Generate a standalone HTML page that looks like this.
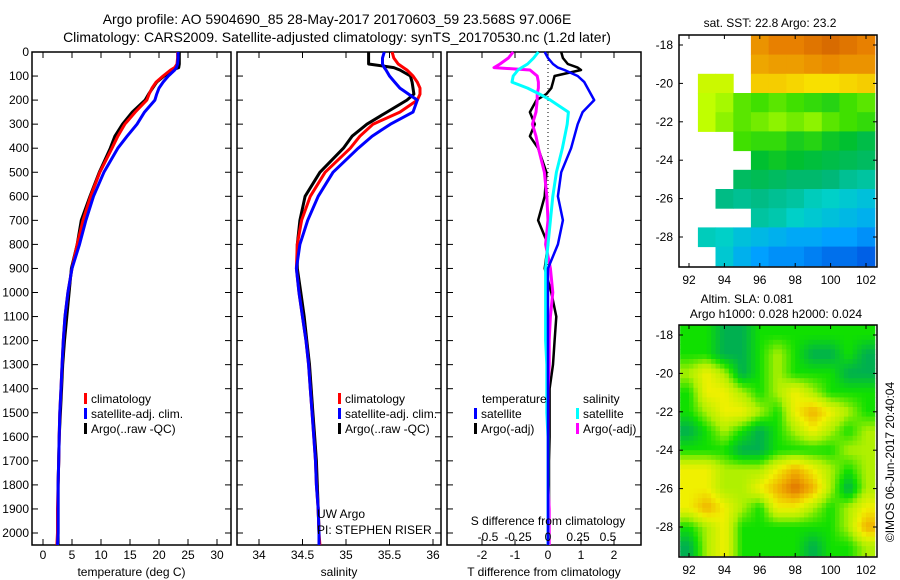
<!DOCTYPE html>
<html><head><meta charset="utf-8"><style>
body{margin:0;background:#fff;}
svg{display:block;font-family:"Liberation Sans",sans-serif;}
text{fill:#000;}
</style></head><body>
<svg id="fig" width="900" height="580" viewBox="0 0 900 580" xmlns="http://www.w3.org/2000/svg">
<text x="337" y="24" font-size="14" text-anchor="middle">Argo profile: AO 5904690_85 28-May-2017 20170603_59 23.568S 97.006E</text>
<text x="337" y="42" font-size="14" text-anchor="middle">Climatology: CARS2009. Satellite-adjusted climatology: synTS_20170530.nc (1.2d later)</text>
</svg>
<script>
// ---------- data ----------
const depths = [0,25,50,65,75,100,125,150,175,200,250,300,350,400,500,600,700,800,900,1000,1100,1200,1300,1400,1500,1600,1700,1800,1900,2000,2050];
const tempClim = [23.2,23.2,23.1,22.7,22.0,20.7,19.5,18.8,18.3,17.9,15.9,14.1,12.9,11.9,9.8,8.2,6.9,5.9,5.0,4.3,3.8,3.5,3.3,3.1,2.9,2.8,2.7,2.6,2.5,2.5,2.4];
const tempSat  = [23.3,23.3,23.2,23.0,22.7,21.6,20.7,20.0,19.6,19.3,17.5,16.2,14.5,12.9,10.5,8.7,7.4,6.3,5.0,4.3,3.8,3.5,3.3,3.1,2.9,2.8,2.7,2.6,2.6,2.6,2.5];
const tempArgo = [23.5,23.5,23.5,23.4,22.3,20.9,19.6,18.9,18.2,17.6,15.4,13.7,12.4,11.6,9.7,8.1,6.6,5.9,4.9,4.5,4.1,3.7,3.4,3.2,3.0,2.8,2.7,2.6,2.6,2.6,2.6];
const salClim = [35.53,35.55,35.60,35.66,35.70,35.77,35.82,35.85,35.85,35.82,35.62,35.31,35.16,35.05,34.76,34.59,34.49,34.44,34.43,34.46,34.50,34.54,34.57,34.59,34.61,34.63,34.65,34.66,34.68,34.69,34.70];
const salSat  = [35.44,35.42,35.42,35.44,35.46,35.50,35.56,35.62,35.72,35.82,35.77,35.51,35.30,35.14,34.85,34.68,34.56,34.47,34.43,34.46,34.50,34.54,34.57,34.59,34.61,34.63,34.65,34.66,34.68,34.69,34.69];
const salArgo = [35.26,35.26,35.26,35.55,35.62,35.74,35.76,35.77,35.78,35.70,35.47,35.24,35.07,34.97,34.70,34.53,34.47,34.44,34.44,34.48,34.52,34.55,34.58,34.60,34.62,34.64,34.66,34.67,34.68,34.69,34.69];
const dTSat  = [-0.1,0.0,0.15,0.3,0.5,0.9,1.1,1.2,1.3,1.4,1.05,0.9,0.8,0.7,0.4,0.3,0.45,0.3,0.0,0.0,0.0,0.0,0.0,0.0,0.0,0.0,0.0,0.0,0.0,0.0,0.0];
const dTArgo = [0.4,0.45,0.6,0.9,1.0,0.2,0.15,0.1,-0.05,-0.35,-0.55,-0.4,-0.55,-0.3,-0.05,-0.1,-0.3,0.0,-0.1,0.1,0.25,0.2,0.15,0.05,0.05,0.05,0.03,0.03,0.03,0.03,0.03];
const dSSat  = [-0.08,-0.12,-0.17,-0.22,-0.25,-0.29,-0.30,-0.17,-0.07,0.02,0.17,0.16,0.14,0.12,0.07,0.04,0.02,0.0,-0.02,-0.02,-0.02,-0.02,-0.01,-0.01,-0.01,0.0,0.0,0.0,0.0,0.0,0.0];
const dSArgo = [-0.29,-0.33,-0.40,-0.45,-0.15,-0.09,-0.08,-0.08,-0.09,-0.09,-0.1,-0.13,-0.1,-0.08,-0.03,-0.01,0.0,-0.02,0.02,0.04,0.02,0.01,0.01,0.0,0.0,0.0,0.0,0.0,0.01,0.01,0.01];
const depthTicks = [0,100,200,300,400,500,600,700,800,900,1000,1100,1200,1300,1400,1500,1600,1700,1800,1900,2000];
const tempTicks = [0,5,10,15,20,25,30];
const salTicks = [34,34.5,35,35.5,36];
const dTTicks = [-2,-1,0,1,2];
const dSTicks = [-0.5,-0.25,0,0.25,0.5];
const mapLons = [92,93,94,95,96,97,98,99,100,101,102];
const mapLats = [-18,-19,-20,-21,-22,-23,-24,-25,-26,-27,-28,-29];
const lonTicks = [92,94,96,98,100,102];
const latTicks = [-18,-20,-22,-24,-26,-28];
const N = null;
const sstGrid = [
[N,N,N,N,24.1,24.3,24.3,24.4,24.5,24.4,24.3],
[N,N,N,N,23.9,24.0,24.0,24.1,24.2,24.1,24.1],
[N,22.9,22.9,N,23.5,23.5,23.4,23.3,23.3,23.4,23.5],
[N,22.8,22.7,22.4,22.3,22.4,22.3,22.2,22.1,22.3,22.4],
[N,22.8,22.6,22.4,22.5,22.6,22.5,22.6,22.4,22.3,22.2],
[N,N,N,22.3,22.2,22.2,22.0,22.1,21.9,21.8,21.6],
[N,N,N,N,21.8,21.9,21.8,21.7,21.6,21.5,21.4],
[N,N,N,21.4,21.5,21.4,21.3,21.3,21.2,21.0,20.9],
[N,N,21.1,21.0,21.1,21.0,20.9,20.7,20.6,20.5,20.4],
[N,N,N,N,20.9,20.8,20.6,20.5,20.4,20.3,20.2],
[N,20.7,20.6,20.4,20.3,20.2,20.1,20.1,20.0,20.0,19.9],
[N,N,20.5,20.2,20.0,19.9,19.9,19.8,19.7,19.7,19.6]];
const slaGrid = [
[0.00,0.00,-0.05,-0.05,0.00,0.00,0.00,0.00,0.00,0.00,0.00],
[0.00,0.00,-0.05,-0.05,0.00,0.05,0.00,-0.05,-0.05,0.00,-0.05],
[0.05,0.10,0.05,-0.05,0.00,0.05,0.00,0.00,0.00,-0.05,-0.05],
[0.00,0.10,0.10,0.05,0.00,0.05,0.10,0.05,0.00,0.00,0.00],
[0.00,0.05,0.10,0.10,0.05,0.00,0.10,0.15,0.10,0.05,0.00],
[-0.05,0.00,0.05,0.00,-0.05,0.00,0.05,0.10,0.05,0.00,0.05],
[0.00,0.00,0.00,-0.05,-0.05,0.00,0.00,0.00,0.00,0.05,0.05],
[0.10,0.10,0.05,0.05,0.05,0.10,0.15,0.10,0.05,0.00,0.05],
[0.10,0.10,0.05,0.05,0.10,0.15,0.20,0.15,0.05,-0.05,0.05],
[0.10,0.15,0.10,0.05,0.00,0.10,0.10,0.05,0.00,0.05,0.10],
[0.00,0.05,0.10,0.00,0.00,0.00,0.00,0.00,0.00,0.05,0.15],
[-0.05,0.05,0.10,0.00,0.00,0.00,0.00,-0.05,0.00,0.00,0.05]];

// ---------- helpers ----------
const svg = document.getElementById('fig');
const NS = 'http://www.w3.org/2000/svg';
function mk(tag, attrs, parent){const e=document.createElementNS(NS,tag);for(const k in attrs)e.setAttribute(k,attrs[k]);(parent||svg).appendChild(e);return e;}
function txt(s,x,y,attrs,parent){const e=mk('text',Object.assign({x:x,y:y,'font-size':12},attrs||{}),parent);e.textContent=s;return e;}
const TOP=52, D2000=533, BOT=545;
const yD = d => TOP + d*(D2000-TOP)/2000;
function linScale(v0,p0,v1,p1){return v=>p0+(v-v0)*(p1-p0)/(v1-v0);}
const xT = linScale(0,43,30,217);
const xS = linScale(34,259,36,433);
const xDT = linScale(0,548,2,614);
const xDS = linScale(0,548,0.5,608);

function panel(name,x0,x1,xs,ticks,fmt,xlabel,showY){
  const g = mk('g',{});
  
  
  const r = mk('rect',{x:x0,y:TOP,width:x1-x0,height:BOT-TOP,fill:'none',stroke:'#000','stroke-width':1.5},g);
  
  
  depthTicks.forEach(d=>{
    mk('line',{x1:x0,x2:x0+6,y1:yD(d),y2:yD(d),stroke:'#000'},g);
    mk('line',{x1:x1,x2:x1-6,y1:yD(d),y2:yD(d),stroke:'#000'},g);
    if(showY){const t=txt(String(d),29,yD(d)+4,{'text-anchor':'end'},g);
      
      }
  });
  if(ticks){ticks.forEach(v=>{
    const x=xs(v);
    mk('line',{x1:x,x2:x,y1:BOT,y2:BOT-6,stroke:'#000'},g);
    mk('line',{x1:x,x2:x,y1:TOP,y2:TOP+6,stroke:'#000'},g);
    const t=txt(fmt(v),x,559,{'text-anchor':'middle'},g);
    
    
  });}
  const l=txt(xlabel,(x0+x1)/2,576,{'text-anchor':'middle'},g);
  
  
  return g;
}
function profile(vals,xs,color,w,name,parent){
  const pts=vals.map((v,i)=>xs(v).toFixed(1)+','+yD(depths[i]).toFixed(1)).join(' ');
  const p=mk('polyline',{points:pts,fill:'none',stroke:color,'stroke-width':w,'stroke-linejoin':'round'},parent);
  
  
}
function legendItem(x,y,color,label,parent){
  mk('rect',{x:x,y:y-10,width:3,height:11,fill:color},parent);
  const t=txt(label,x+7,y,{},parent);
  
  
}

// panel 1 temperature
const p1=panel('temperature-panel',32,231,xT,tempTicks,String,'temperature (deg C)',true);
profile(tempArgo,xT,'#000',3,'temp-argo-line',p1);
profile(tempClim,xT,'#f00',3,'temp-climatology-line',p1);
profile(tempSat,xT,'#00f',3,'temp-satellite-line',p1);
legendItem(84,403,'#f00','climatology',p1);
legendItem(84,418,'#00f','satellite-adj. clim.',p1);
legendItem(84,433,'#000','Argo(..raw -QC)',p1);

// panel 2 salinity
const p2=panel('salinity-panel',237,441,xS,salTicks,String,'salinity',false);
profile(salArgo,xS,'#000',3,'sal-argo-line',p2);
profile(salClim,xS,'#f00',3,'sal-climatology-line',p2);
profile(salSat,xS,'#00f',3,'sal-satellite-line',p2);
legendItem(338,403,'#f00','climatology',p2);
legendItem(338,418,'#00f','satellite-adj. clim.',p2);
legendItem(338,433,'#000','Argo(..raw -QC)',p2);
let t=txt('UW Argo',317,518,{},p2);


t=txt('PI: STEPHEN RISER',317,534,{},p2);



// panel 3 differences
const p3=panel('difference-panel',447,641,xDT,dTTicks,String,'T difference from climatology',false);
const zl=mk('line',{x1:xDT(0),x2:xDT(0),y1:TOP,y2:BOT,stroke:'#000','stroke-dasharray':'1,3'},p3);


profile(dTArgo,xDT,'#000',2.5,'dT-argo-line',p3);
profile(dSArgo,xDS,'#f0f',3,'dS-argo-line',p3);
profile(dSSat,xDS,'#0ff',3,'dS-satellite-line',p3);
profile(dTSat,xDT,'#00f',2.5,'dT-satellite-line',p3);
dSTicks.forEach(v=>{const e=txt(String(v),xDS(v),541,{'text-anchor':'middle'},p3);
  
  });
t=txt('S difference from climatology',548,525,{'text-anchor':'middle'},p3);


t=txt('temperature',482,403,{},p3);


t=txt('salinity',583,403,{},p3);


legendItem(474,418,'#00f','satellite',p3);
legendItem(474,433,'#000','Argo(-adj)',p3);
legendItem(576,418,'#0ff','satellite',p3);
legendItem(576,433,'#f0f','Argo(-adj)',p3);

// ---------- maps ----------
const xLon = linScale(92,689,102,866);
function hex2rgb(h){return [1,3,5].map(i=>parseInt(h.substr(i,2),16));}
function cmap(stops,v){
  if(v<=stops[0][0])return stops[0][1];
  for(let i=1;i<stops.length;i++){if(v<=stops[i][0]){const a=hex2rgb(stops[i-1][1]),b=hex2rgb(stops[i][1]);const f=(v-stops[i-1][0])/(stops[i][0]-stops[i-1][0]);return 'rgb('+a.map((c,k)=>Math.round(c+(b[k]-c)*f)).join(',')+')';}}
  return stops[stops.length-1][1];
}
const sstStops=[[19.5,'#0050e0'],[20.0,'#00a0ff'],[20.6,'#00d0c8'],[21.2,'#00b878'],[21.8,'#00c030'],[22.3,'#40e000'],[22.8,'#c0ff00'],[23.3,'#f8e000'],[23.8,'#f0b000'],[24.3,'#e88000'],[24.6,'#d06000']];
const slaStops=[[-0.05,'#00b050'],[0.0,'#10e000'],[0.05,'#b0f000'],[0.10,'#f0f000'],[0.15,'#f0b000'],[0.20,'#e07000']];
function sampleGrid(grid,r,c){
  // bilinear interpolation in grid index space
  const R=grid.length-1,C=grid[0].length-1;
  r=Math.max(0,Math.min(R,r)); c=Math.max(0,Math.min(C,c));
  const r0=Math.floor(r),c0=Math.floor(c),r1=Math.min(R,r0+1),c1=Math.min(C,c0+1);
  const fr=r-r0,fc=c-c0;
  const a=grid[r0][c0],b=grid[r0][c1],d=grid[r1][c0],e=grid[r1][c1];
  return (a*(1-fc)+b*fc)*(1-fr)+(d*(1-fc)+e*fc)*fr;
}
function drawMap(name,top,bottom,grid,stops,lat18,lat28,smooth){
  const g=mk('g',{});
  
  
  const yLat=linScale(-18,lat18,-28,lat28);
  const dx=(xLon(1)-xLon(0)), dy=Math.abs(yLat(-19)-yLat(-18));
  if(smooth){
    const sub=4;
    for(let ri=0;ri<grid.length*sub;ri++){for(let ci=0;ci<grid[0].length*sub;ci++){
      const rr=(ri+0.5)/sub-0.5, cc=(ci+0.5)/sub-0.5;
      const v=sampleGrid(grid,rr,cc);
      const c=mk('rect',{x:(xLon(mapLons[0])-dx/2+ci*dx/sub).toFixed(2),y:(yLat(mapLats[0])-dy/2+ri*dy/sub).toFixed(2),width:(dx/sub+0.4).toFixed(2),height:(dy/sub+0.4).toFixed(2),fill:cmap(stops,v)},g);
      
      
    }}
  } else {
  grid.forEach((row,ri)=>row.forEach((v,ci)=>{
    if(v===null)return;
    const c=mk('rect',{x:(xLon(mapLons[ci])-dx/2).toFixed(1),y:(yLat(mapLats[ri])-dy/2).toFixed(1),width:(dx+0.5).toFixed(1),height:(dy+0.5).toFixed(1),fill:cmap(stops,v)},g);
    
    
  }));
  }
  const f=mk('rect',{x:679,y:top,width:198,height:bottom-top,fill:'none',stroke:'#000','stroke-width':1.5},g);
  
  
  lonTicks.forEach(l=>{const x=xLon(l);
    mk('line',{x1:x,x2:x,y1:bottom,y2:bottom-4,stroke:'#000'},g);
    mk('line',{x1:x,x2:x,y1:top,y2:top+4,stroke:'#000'},g);
    const e=txt(String(l),x,bottom+17,{'text-anchor':'middle'},g);
    
    });
  latTicks.forEach(l=>{const y=yLat(l);
    mk('line',{x1:679,x2:683,y1:y,y2:y,stroke:'#000'},g);
    mk('line',{x1:877,x2:873,y1:y,y2:y,stroke:'#000'},g);
    const e=txt(String(l),673,y+4,{'text-anchor':'end'},g);
    
    });
}
drawMap('sst-map',35,267,sstGrid,sstStops,45,237,false);
drawMap('sla-map',325,557,slaGrid,slaStops,335,527,true);
t=txt('sat. SST: 22.8 Argo: 23.2',770,27,{'text-anchor':'middle'});


t=txt('Altim. SLA: 0.081',747,303,{'text-anchor':'middle'});


t=txt('Argo h1000: 0.028 h2000: 0.024',776,318,{'text-anchor':'middle'});


t=txt('©IMOS 06-Jun-2017 20:40:04',0,0,{'text-anchor':'middle',transform:'translate(894,462) rotate(-90)'});


</script>
</body></html>
